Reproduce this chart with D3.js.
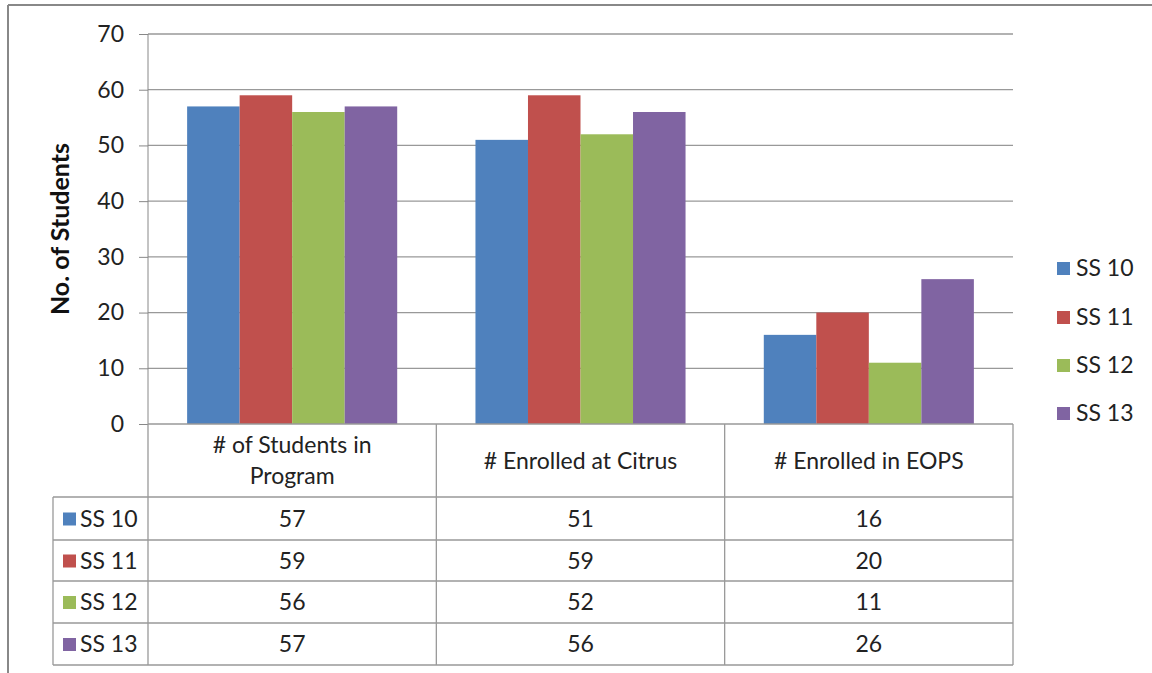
<!DOCTYPE html>
<meta charset="utf-8">
<style>
	body { margin:0; background:#fff; }
	svg { font-family: Lato, "Open Sans", sans-serif; }
	.axis path { display:none; }
	.axis line { stroke:#888; }
	.axis text { font-size:23px; fill:#222; font-family: Lato, sans-serif; }
</style>
<script src="https://d3js.org/d3.v7.min.js"></script>
<body>
<script>
	var categories = ["# of Students in\nProgram", "# Enrolled at Citrus", "# Enrolled in EOPS"];
	var seriesNames = ["SS 10", "SS 11", "SS 12", "SS 13"];
	var ss10 = [57, 51, 16];
	var ss11 = [59, 59, 20];
	var ss12 = [56, 52, 11];
	var ss13 = [57, 56, 26];
	var yTicks = [0, 10, 20, 30, 40, 50, 60, 70];
	var colors = ["#4F81BD", "#C0504D", "#9BBB59", "#8064A2"];

	var values = [ss10, ss11, ss12, ss13];

	var width = 1152, height = 673;
	var plotLeft = 148, plotRight = 1013, plotTop = 34, plotBottom = 424;
	var rowY = [497, 540, 581, 623, 665]; // table row boundaries below the header
	var fs = "23px";

	var svg = d3.select("body").append("svg")
		.attr("width", width)
		.attr("height", height);

	// outer frame (top and left edges only visible)
	svg.append("line").attr("x1", 8).attr("x2", width).attr("y1", 5).attr("y2", 5)
		.attr("stroke", "#888").attr("stroke-width", 2);
	svg.append("line").attr("x1", 8).attr("x2", 8).attr("y1", 5).attr("y2", height)
		.attr("stroke", "#888").attr("stroke-width", 2);

	var x = d3.scaleBand()
		.domain(d3.range(categories.length))
		.range([plotLeft, plotRight])
		.paddingInner(0)
		.paddingOuter(0);

	var xs = d3.scaleBand()
		.domain(d3.range(seriesNames.length))
		.range([0, x.bandwidth()])
		.paddingOuter(0.745)
		.paddingInner(0);

	var y = d3.scaleLinear()
		.domain([0, 70])
		.range([plotBottom, plotTop]);

	// gridlines
	svg.append("g").selectAll("line")
		.data(yTicks.filter(function(d) { return d > 0; }))
		.enter().append("line")
		.attr("x1", plotLeft).attr("x2", plotRight)
		.attr("y1", function(d) { return y(d); })
		.attr("y2", function(d) { return y(d); })
		.attr("stroke", "#999").attr("stroke-width", 1.3);

	var yAxis = svg.append("g")
		.attr("class", "axis")
		.attr("transform", "translate(" + plotLeft + ",0)")
		.call(d3.axisLeft(y).tickValues(yTicks).tickSize(9).tickPadding(15));

	svg.append("line")
		.attr("x1", plotLeft).attr("x2", plotLeft).attr("y1", plotTop).attr("y2", plotBottom)
		.attr("stroke", "#888");

	svg.append("text")
		.attr("transform", "translate(69," + (plotTop + plotBottom) / 2 + ") rotate(-90)")
		.attr("text-anchor", "middle")
		.style("font-size", "25px")
		.style("font-weight", "bold")
		.attr("fill", "#111")
		.text("No. of Students");

	// bars
	var groups = svg.append("g").selectAll("g")
		.data(values)
		.enter().append("g")
		.attr("fill", function(d, i) { return colors[i]; });

	groups.each(function(series, si) {
		d3.select(this).selectAll("rect")
			.data(series)
			.enter().append("rect")
			.attr("x", function(d, ci) { return x(ci) + xs(si); })
			.attr("width", xs.bandwidth())
			.attr("y", function(d) { return y(d); })
			.attr("height", function(d) { return y(0) - y(d); });
	});

	// data table
	var grid = svg.append("g").attr("stroke", "#999").attr("stroke-width", 1.3).attr("fill", "none");
	grid.append("line").attr("x1", plotLeft).attr("x2", plotRight).attr("y1", plotBottom).attr("y2", plotBottom);
	rowY.forEach(function(ry) {
		grid.append("line").attr("x1", 53).attr("x2", plotRight).attr("y1", ry).attr("y2", ry);
	});
	d3.range(categories.length + 1).forEach(function(i) {
		var xx = i < categories.length ? x(i) : plotRight;
		grid.append("line").attr("x1", xx).attr("x2", xx).attr("y1", plotBottom).attr("y2", rowY[rowY.length - 1]);
	});
	grid.append("line").attr("x1", 53).attr("x2", 53).attr("y1", rowY[0]).attr("y2", rowY[rowY.length - 1]);

	categories.forEach(function(c, ci) {
		var lines = c.split("\n");
		var t = svg.append("text")
			.attr("text-anchor", "middle")
			.style("font-size", fs)
			.attr("fill", "#222");
		var cy = (plotBottom + rowY[0]) / 2;
		lines.forEach(function(l, li) {
			t.append("tspan")
				.attr("x", x(ci) + x.bandwidth() / 2)
				.attr("y", cy + (li - (lines.length - 1) / 2) * 31)
				.attr("dy", "0.35em")
				.text(l);
		});
	});

	seriesNames.forEach(function(name, si) {
		var cy = (rowY[si] + rowY[si + 1]) / 2;
		svg.append("rect")
			.attr("x", 63).attr("y", cy - 6)
			.attr("width", 13).attr("height", 13)
			.attr("fill", colors[si]);
		svg.append("text")
			.attr("x", 80).attr("y", cy).attr("dy", "0.35em")
			.style("font-size", fs).attr("fill", "#222")
			.text(name);
		values[si].forEach(function(v, ci) {
			svg.append("text")
				.attr("x", x(ci) + x.bandwidth() / 2).attr("y", cy).attr("dy", "0.35em")
				.attr("text-anchor", "middle")
				.style("font-size", fs).attr("fill", "#222")
				.text(v);
		});
	});

	// legend
	var legendY = [268, 317, 365, 413];
	seriesNames.forEach(function(name, si) {
		svg.append("rect")
			.attr("x", 1057).attr("y", legendY[si] - 6)
			.attr("width", 13).attr("height", 13)
			.attr("fill", colors[si]);
		svg.append("text")
			.attr("x", 1076).attr("y", legendY[si]).attr("dy", "0.35em")
			.style("font-size", fs).attr("fill", "#222")
			.text(name);
	});
</script>
</body>
